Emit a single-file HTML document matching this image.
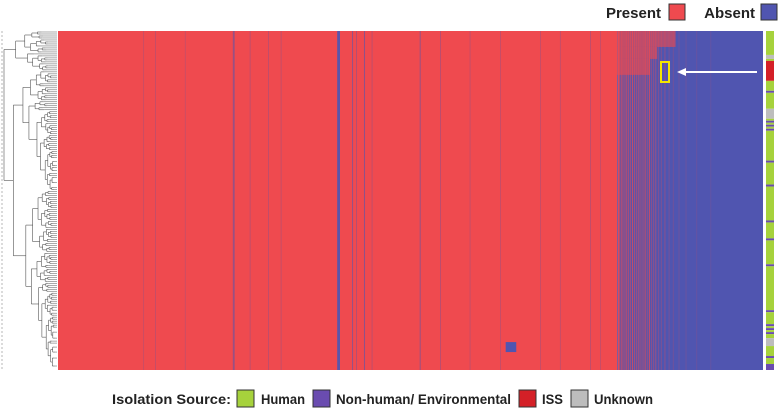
<!DOCTYPE html>
<html><head><meta charset="utf-8"><style>
html,body{margin:0;padding:0;background:#fff;}
svg{display:block;font-family:"Liberation Sans",sans-serif;}
</style></head><body>
<svg id="chart" width="778" height="410" viewBox="0 0 778 410">
<g id="dendro"></g>
<g id="heat"></g>
<g id="src"></g>
<rect x="661" y="62" width="8" height="20" fill="none" stroke="#f5e600" stroke-width="2"/>
<g>
<line x1="757" y1="72" x2="682" y2="72" stroke="#fff" stroke-width="2"/>
<polygon points="677,72 686,68 686,76" fill="#fff"/>
</g>
<g>
<text x="661" y="18" text-anchor="end" font-size="15" font-weight="bold" fill="#222">Present</text>
<rect x="669" y="4" width="16" height="16" fill="#ef4a4f" stroke="#333" stroke-width="1"/>
<text x="755" y="18" text-anchor="end" font-size="15" font-weight="bold" fill="#222">Absent</text>
<rect x="761" y="4" width="16" height="16" fill="#5055b0" stroke="#333" stroke-width="1"/>
</g>
<g font-size="14" font-weight="bold" fill="#222">
<text x="112" y="404" textLength="119" lengthAdjust="spacingAndGlyphs">Isolation Source:</text>
<rect x="237" y="390" width="17" height="17" fill="#a6d23c" stroke="#333"/>
<text x="261" y="404" textLength="44" lengthAdjust="spacingAndGlyphs">Human</text>
<rect x="313" y="390" width="17" height="17" fill="#6a4cb0" stroke="#333"/>
<text x="336" y="404" textLength="175" lengthAdjust="spacingAndGlyphs">Non-human/ Environmental</text>
<rect x="519" y="390" width="17" height="17" fill="#d42027" stroke="#333"/>
<text x="542" y="404" textLength="21" lengthAdjust="spacingAndGlyphs">ISS</text>
<rect x="571" y="390" width="17" height="17" fill="#bdbdbd" stroke="#333"/>
<text x="594" y="404" textLength="59" lengthAdjust="spacingAndGlyphs">Unknown</text>
</g>
</svg>
<script>
// feature axis 0..1000, genome rows 0..170
const presentBoundary = 793;
const stripeF = [121,138,180,248,250,272,298,316,396,417,423,434,445,513,542,584,627,684,712,755,769];
const stripeW = [1,1,1,1.5,1,1,1,1,4,1.5,1,1.5,1,1.5,1,1,1,1,1,1,1];
const stripeO = [0.3,0.35,0.3,0.6,0.5,0.4,0.4,0.35,0.95,0.55,0.5,0.6,0.4,0.5,0.45,0.35,0.35,0.35,0.35,0.4,0.35];
const mixF = [794,796,799,802,805,808,811,814,817,820,823,826,829,832,835,838,841,844,847,851,855,860,866,872,880,890,905,925];
const mixO = [0.9,0.7,0.8,0.6,0.75,0.65,0.5,0.7,0.55,0.5,0.6,0.45,0.5,0.65,0.4,0.7,0.35,0.35,0.4,0.3,0.25,0.3,0.2,0.18,0.15,0.14,0.12,0.1];
const patchF0 = [793,793,793];
const patchF1 = [876,850,840];
const patchR0 = [0,8,14];
const patchR1 = [8,14,22];
const blockF0 = [635];const blockF1 = [650];const blockR0 = [156];const blockR1 = [161];
const srcColors = {H:"#a6d23c",N:"#6a4cb0",I:"#d42027",U:"#bdbdbd"};
const srcStart = [0,12,14,15,25,30,31,39,44,45,46,47,48,49,50,65,66,77,78,95,96,104,105,117,118,140,141,147,148,149,150,151,152,154,158,163,164,167];
const srcType =  ["H","U","H","I","H","N","H","U","H","N","H","N","H","N","H","N","H","N","H","N","H","N","H","N","H","N","H","N","H","N","H","N","H","U","H","N","H","N"];
const X0=58,X1=763,Y0=31,Y1=370,ROWS=170;
const xs=f=>X0+f*(X1-X0)/1000, ys=r=>Y0+r*(Y1-Y0)/ROWS;
const NS="http://www.w3.org/2000/svg";
function mk(p,t,a){const e=document.createElementNS(NS,t);for(const k in a)e.setAttribute(k,a[k]);p.appendChild(e);return e;}
const heat=document.getElementById('heat');
let e=mk(heat,'rect',{x:X0,y:Y0,width:xs(presentBoundary)-X0,height:Y1-Y0,fill:'#ef4a4f'});


e=mk(heat,'rect',{x:xs(presentBoundary),y:Y0,width:X1-xs(presentBoundary),height:Y1-Y0,fill:'#5055b0'});


stripeF.forEach((f,i)=>{const s=mk(heat,'rect',{x:xs(f),y:Y0,width:stripeW[i]*0.705,height:Y1-Y0,fill:'#5055b0',opacity:stripeO[i]});

});
patchF0.forEach((f,i)=>{const s=mk(heat,'rect',{x:xs(f),y:ys(patchR0[i]),width:xs(patchF1[i])-xs(f),height:ys(patchR1[i])-ys(patchR0[i]),fill:'#ef4a4f',opacity:0.6});

});
mixF.forEach((f,i)=>{const s=mk(heat,'rect',{x:xs(f),y:Y0,width:1.2,height:Y1-Y0,fill:'#ef4a4f',opacity:mixO[i]});

});
blockF0.forEach((f,i)=>{const s=mk(heat,'rect',{x:xs(f),y:ys(blockR0[i]),width:xs(blockF1[i])-xs(f),height:ys(blockR1[i])-ys(blockR0[i]),fill:'#5055b0'});

});
const src=document.getElementById('src');
srcStart.forEach((r,i)=>{const end=i<srcStart.length-1?srcStart[i+1]:ROWS;const s=mk(src,'rect',{x:766,y:ys(r),width:8,height:ys(end)-ys(r),fill:srcColors[srcType[i]]});

});
// dendrogram
const dg=document.getElementById('dendro');
mk(dg,'line',{x1:2,y1:Y0,x2:2,y2:Y1,stroke:'#888','stroke-width':0.6,'stroke-dasharray':'2,2'});
const fr=[0.12,0.55,0.35,0.6,0.45,0.3,0.5,0.65,0.4,0.25,0.55,0.7];let k=0;
function node(lo,hi,x,depth){const c=(ys(lo)+ys(hi))/2;if(hi-lo<=1||x>=54){mk(dg,'line',{x1:x,y1:c,x2:57,y2:c,stroke:'#555','stroke-width':0.5});return c;}
const m=lo+Math.max(1,Math.min(hi-lo-1,Math.round((hi-lo)*fr[k++%fr.length])));
const step=Math.max(2,(57-x)*0.22);
const a=node(lo,m,x+step,depth+1),b=node(m,hi,x+step*(depth%2?1.3:0.8),depth+1);
mk(dg,'line',{x1:x,y1:a,x2:x,y2:b,stroke:'#555','stroke-width':0.6});
const ax=x+step,bx=x+step*(depth%2?1.3:0.8);
mk(dg,'line',{x1:x,y1:a,x2:ax,y2:a,stroke:'#555','stroke-width':0.6});
mk(dg,'line',{x1:x,y1:b,x2:bx,y2:b,stroke:'#555','stroke-width':0.6});
return (a+b)/2;}
node(0,ROWS,4,0);
</script>
</body></html>
